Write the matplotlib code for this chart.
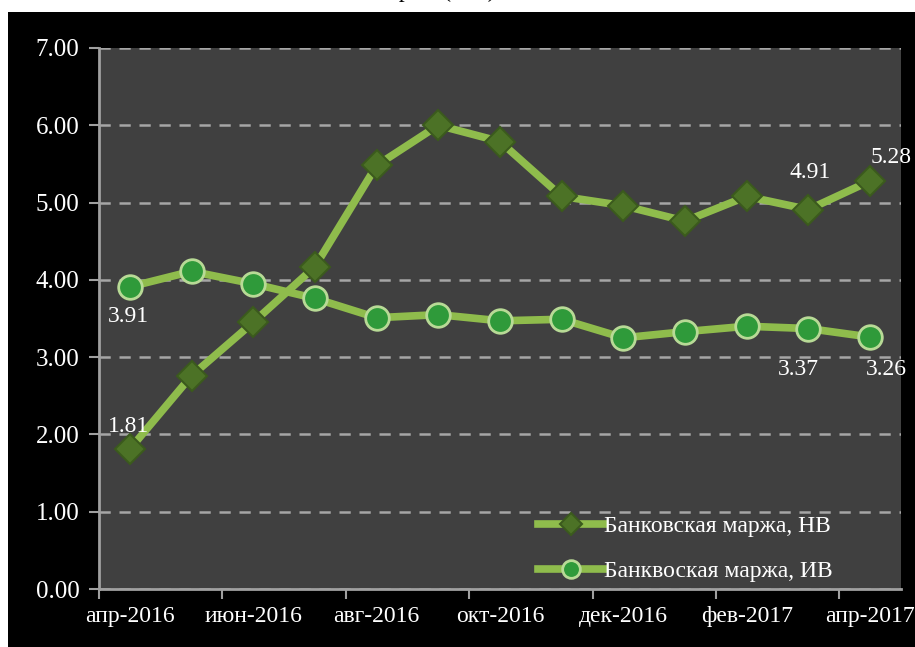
import matplotlib.pyplot as plt
from matplotlib.patches import Rectangle

months = ['апр-2016', 'май-2016', 'июн-2016', 'июл-2016', 'авг-2016', 'сен-2016', 'окт-2016',
          'ноя-2016', 'дек-2016', 'янв-2017', 'фев-2017', 'мар-2017', 'апр-2017']
margin_nv = [1.81, 2.76, 3.45, 4.17, 5.48, 6.00, 5.79, 5.08, 4.96, 4.76, 5.08, 4.91, 5.28]
margin_iv = [3.91, 4.11, 3.95, 3.76, 3.51, 3.55, 3.47, 3.49, 3.25, 3.33, 3.40, 3.37, 3.26]
label_nv = 'Банковская маржа, НВ'
label_iv = 'Банквоская маржа, ИВ'


def main():
    plt.rcParams['font.family'] = 'Liberation Serif'
    fig = plt.figure(figsize=(9.15, 6.47), dpi=100, facecolor='white')
    fig.patches.append(Rectangle((8 / 915, 0), 1, 1 - 12 / 647, transform=fig.transFigure,
                                 facecolor='black', edgecolor='none', zorder=-10))
    # title is cut off at the top in the original
    fig.text(375 / 915, 1 + 3 / 647, 'Банковская маржа (в %)', ha='center', va='baseline',
             fontsize=17, color='black')

    ax = fig.add_axes([99 / 915, 1 - 589 / 647, 802 / 915, 541 / 647])
    ax.set_zorder(2)
    ax.set_facecolor('#404040')
    x = list(range(len(months)))

    line_col = '#8FBC4C'
    ax.plot(x, margin_iv, color=line_col, lw=5.5, marker='o', ms=17,
            mfc='#2F9A3A', mec='#B8DA96', mew=2, label=label_iv, zorder=3)
    ax.plot(x, margin_nv, color=line_col, lw=5.5, marker='D', ms=15,
            mfc='#4C7226', mec='#3B5A1D', mew=1.5, label=label_nv, zorder=4)

    ax.set_xlim(-0.5, len(months) - 0.5)
    ax.set_ylim(0, 7)
    ax.set_yticks(range(8))
    ax.set_yticklabels(['%.2f' % v for v in range(8)])
    ax.set_xticks([i - 0.5 for i in range(0, 14, 2)])
    ax.set_xticklabels([])
    ax.set_xticks(x[::2], minor=True)
    ax.set_xticklabels(months[::2], minor=True)
    ax.tick_params(axis='x', which='minor', length=0, pad=12, labelsize=17)
    ax.tick_params(axis='x', which='major', length=7, width=1.5, color='#A0A0A0')
    ax.tick_params(axis='y', length=7, width=1.5, color='#A0A0A0', pad=7, labelsize=18)
    ax.tick_params(axis='both', which='both', labelcolor='white')

    for side in ['top', 'right']:
        ax.spines[side].set_visible(False)
    for side in ['left', 'bottom']:
        ax.spines[side].set_color('#A0A0A0')
        ax.spines[side].set_linewidth(2)
    ax.grid(axis='y', color='#A6A6A6', ls=(0, (4.5, 3.5)), lw=1.8)
    ax.set_axisbelow(True)

    lbl = dict(color='white', fontsize=17, zorder=5, textcoords='offset points')
    ax.annotate('%.2f' % margin_iv[0], (0, margin_iv[0]), xytext=(-1, -14),
                ha='center', va='top', **lbl)
    ax.annotate('%.2f' % margin_nv[0], (0, margin_nv[0]), xytext=(-1, 9),
                ha='center', va='bottom', **lbl)
    ax.annotate('%.2f' % margin_nv[11], (11, margin_nv[11]), xytext=(1, 19),
                ha='center', va='bottom', **lbl)
    ax.annotate('%.2f' % margin_nv[12], (12, margin_nv[12]), xytext=(15, 9),
                ha='center', va='bottom', **lbl)
    ax.annotate('%.2f' % margin_iv[11], (11, margin_iv[11]), xytext=(-7, -22),
                ha='center', va='top', **lbl)
    ax.annotate('%.2f' % margin_iv[12], (12, margin_iv[12]), xytext=(12, -16),
                ha='center', va='top', **lbl)

    handles, labels = ax.get_legend_handles_labels()
    leg = ax.legend(handles[::-1], labels[::-1], loc='lower left', bbox_to_anchor=(0.525, -0.02),
                    frameon=False, fontsize=17, handlelength=2.8, handletextpad=0.0,
                    labelspacing=1.0, borderpad=0.25, markerscale=0.75)
    for t in leg.get_texts():
        t.set_color('white')

    fig.savefig('out.png', facecolor=fig.get_facecolor())


if __name__ == '__main__':
    main()
